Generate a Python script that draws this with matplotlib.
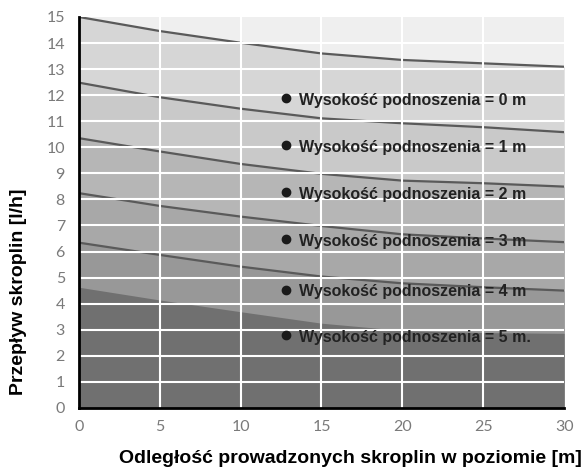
import matplotlib.pyplot as plt

# odleglosc [m]
distance = [0, 5, 10, 15, 20, 25, 30]

# przeplyw [l/h] dla kolejnych wysokosci podnoszenia
flow_0m = [15.0, 14.46, 14.01, 13.6, 13.35, 13.22, 13.09]
flow_1m = [12.48, 11.92, 11.48, 11.11, 10.92, 10.77, 10.58]
flow_2m = [10.35, 9.84, 9.36, 8.98, 8.72, 8.62, 8.49]
flow_3m = [8.24, 7.75, 7.34, 6.98, 6.66, 6.5, 6.36]
flow_4m = [6.34, 5.87, 5.42, 5.04, 4.78, 4.63, 4.5]
flow_5m = [4.63, 4.14, 3.69, 3.25, 2.97, 2.89, 2.86]

labels = [
    "Wysokość podnoszenia = 0 m",
    "Wysokość podnoszenia = 1 m",
    "Wysokość podnoszenia = 2 m",
    "Wysokość podnoszenia = 3 m",
    "Wysokość podnoszenia = 4 m",
    "Wysokość podnoszenia = 5 m.",
]
label_y = [11.8, 10.0, 8.2, 6.4, 4.45, 2.7]

curves = [flow_0m, flow_1m, flow_2m, flow_3m, flow_4m, flow_5m]
fills = ["#d6d6d6", "#c9c9c9", "#b6b6b6", "#a8a8a8", "#989898", "#707070"]

plt.rcParams["font.family"] = ["Liberation Sans", "DejaVu Sans"]

fig = plt.figure(figsize=(5.84, 4.71), dpi=100)
ax = fig.add_axes([0.135, 0.134, 0.831, 0.83])
ax.set_facecolor("#efefef")

for i, curve in enumerate(curves):
    ax.fill_between(distance, 0, curve, color=fills[i], lw=0, zorder=1 + i)

for curve in curves[:5]:
    ax.plot(distance, curve, color="#5a5a5a", lw=1.6, zorder=8)

# biala siatka nad wypelnieniem
for y in range(1, 15):
    ax.axhline(y, color="white", lw=1.5, zorder=9)
for x in range(5, 30, 5):
    ax.axvline(x, color="white", lw=1.5, zorder=9)

ax.set_xlim(0, 30)
ax.set_ylim(0, 15)
ax.set_xticks(range(0, 31, 5))
ax.set_yticks(range(0, 16))

for y, lab in zip(label_y, labels):
    ax.plot(12.8, y + 0.08, "o", color="#1a1a1a", ms=6, zorder=12)
    ax.text(13.6, y, lab, fontsize=11.5, fontweight="bold", color="#222222",
            va="center", ha="left", zorder=12)

ax.tick_params(axis="x", length=0, labelsize=11.5, labelcolor="#7a7a7a", pad=9)
ax.tick_params(axis="y", length=0, labelsize=11.5, labelcolor="#7a7a7a", pad=10)
for lab in ax.get_xticklabels() + ax.get_yticklabels():
    lab.set_family(["Lato", "DejaVu Sans"])

ax.spines["top"].set_visible(False)
ax.spines["right"].set_visible(False)
ax.spines["left"].set_linewidth(2)
ax.spines["bottom"].set_linewidth(2)
ax.spines["left"].set_zorder(11)
ax.spines["bottom"].set_zorder(11)

fig.text(0.6, 0.027, "Odległość prowadzonych skroplin w poziomie [m]",
         fontsize=14, fontweight="bold", ha="center", va="center")
fig.text(0.031, 0.38, "Przepływ skroplin [l/h]", fontsize=14,
         fontweight="bold", rotation=90, ha="center", va="center")

fig.savefig("out.png", dpi=100)
